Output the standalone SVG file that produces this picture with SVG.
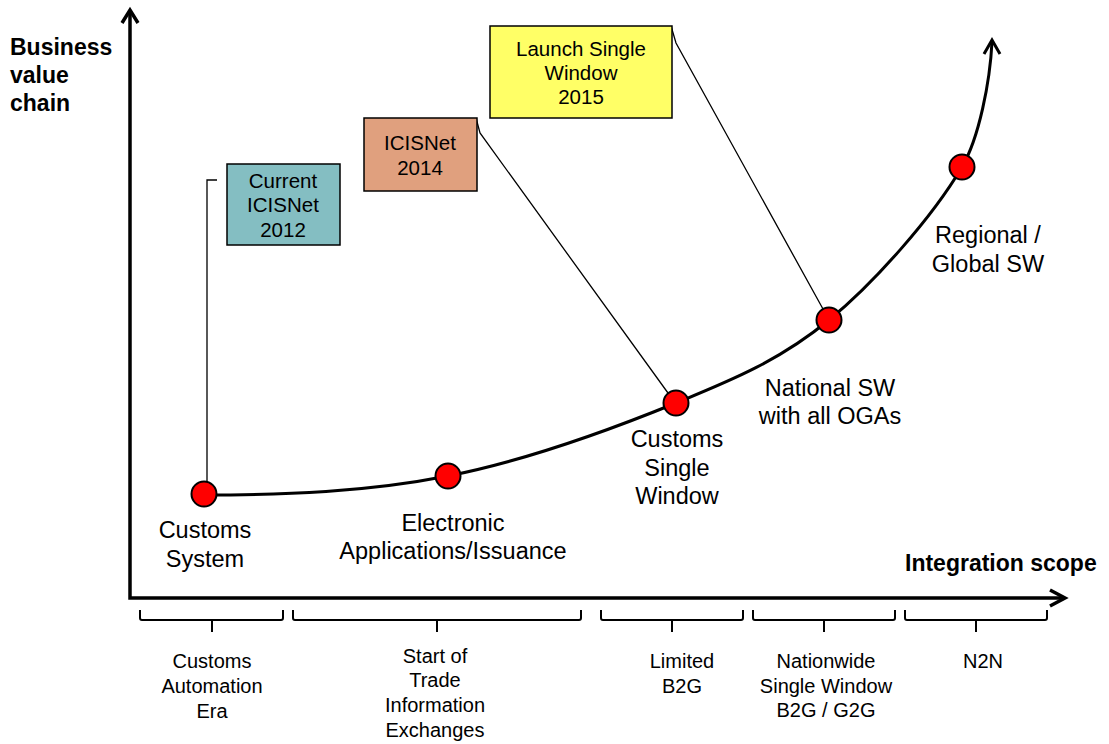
<svg xmlns="http://www.w3.org/2000/svg" width="1109" height="744" viewBox="0 0 1109 744">
<style>
.ax{fill:none;stroke:#000;stroke-width:3.5;stroke-linejoin:miter}
.cv{fill:none;stroke:#000;stroke-width:3}
.dot{fill:#ff0000;stroke:#000;stroke-width:2}
.br{fill:none;stroke:#000;stroke-width:2}
.ln{fill:none;stroke:#000;stroke-width:1.3}
.box{stroke:#000;stroke-width:1.5}
text{font-family:"Liberation Sans",Arial,sans-serif;fill:#000;text-anchor:middle}
.t20{font-size:23.5px}
.t18{font-size:20.5px}
.t17{font-size:20px}
.b{font-weight:bold;font-size:23px;text-anchor:start}
</style>
<g id="axes">
<path class="ax" d="M130,10 L130,598 L1064,598"/>
<polyline class="ax" points="122,23 130,10 138,23"/>
<polyline class="ax" points="1050,590 1065,598 1050,606"/>
</g>
<g id="axis-labels">
<text class="b" x="10" y="55">Business</text>
<text class="b" x="10" y="83">value</text>
<text class="b" x="10" y="111">chain</text>
<text class="b" x="905" y="571">Integration scope</text>
</g>
<g id="connectors">
<path class="cv" d="M204,495 C285,495 367,492 448,476 C524,461 600,434 676,403 C727,382 778,362 829,320 C873,284 932,218 962,167 C979,138 990,82 992,42"/>
<polyline class="cv" points="984,54 992,40 1000,54"/>
<polyline class="ln" points="217,180 207,180 207,482"/>
<polyline class="ln" points="476,118 480,133 668,393"/>
<polyline class="ln" points="671,26 676,43 823,309"/>
</g>
<g id="box-2012">
<rect class="box" x="227" y="164" width="113" height="81" fill="#84BEC2"/>
<text class="t18" x="283" y="188">Current</text>
<text class="t18" x="283" y="212">ICISNet</text>
<text class="t18" x="283" y="237">2012</text>
</g>
<g id="box-2014">
<rect class="box" x="364" y="118" width="113" height="73" fill="#E0A07E"/>
<text class="t18" x="420" y="150">ICISNet</text>
<text class="t18" x="420" y="175">2014</text>
</g>
<g id="box-2015">
<rect class="box" x="490" y="26" width="182" height="92" fill="#FFFF66"/>
<text class="t18" x="581" y="56">Launch Single</text>
<text class="t18" x="581" y="80">Window</text>
<text class="t18" x="581" y="104">2015</text>
</g>
<g id="node-customs-system">
<circle class="dot" cx="204" cy="494" r="12.5"/>
<text class="t20" x="205" y="538">Customs</text>
<text class="t20" x="205" y="567">System</text>
</g>
<g id="node-electronic">
<circle class="dot" cx="448" cy="476" r="12.5"/>
<text class="t20" x="453" y="531">Electronic</text>
<text class="t20" x="453" y="559">Applications/Issuance</text>
</g>
<g id="node-customs-sw">
<circle class="dot" cx="676" cy="403" r="12.5"/>
<text class="t20" x="677" y="447">Customs</text>
<text class="t20" x="677" y="476">Single</text>
<text class="t20" x="677" y="504">Window</text>
</g>
<g id="node-national-sw">
<circle class="dot" cx="829" cy="320" r="12.5"/>
<text class="t20" x="830" y="396">National SW</text>
<text class="t20" x="830" y="424">with all OGAs</text>
</g>
<g id="node-regional-sw">
<circle class="dot" cx="962" cy="167" r="12.5"/>
<text class="t20" x="988" y="243">Regional /</text>
<text class="t20" x="988" y="272">Global SW</text>
</g>
<g id="brackets">
<path class="br" d="M140,610 L140,618 Q140,620 142,620 L281,620 Q283,620 283,618 L283,610 M212,620 L212,632"/>
<path class="br" d="M293,610 L293,618 Q293,620 295,620 L579,620 Q581,620 581,618 L581,610 M437,620 L437,632"/>
<path class="br" d="M601,610 L601,618 Q601,620 603,620 L741,620 Q743,620 743,618 L743,610 M672,620 L672,632"/>
<path class="br" d="M753,610 L753,618 Q753,620 755,620 L893,620 Q895,620 895,618 L895,610 M824,620 L824,632"/>
<path class="br" d="M905,610 L905,618 Q905,620 907,620 L1045,620 Q1047,620 1047,618 L1047,610 M976,620 L976,632"/>
</g>
<g id="scope-labels">
<text class="t17" x="212" y="668">Customs</text>
<text class="t17" x="212" y="693">Automation</text>
<text class="t17" x="212" y="718">Era</text>
<text class="t17" x="435" y="663">Start of</text>
<text class="t17" x="435" y="687">Trade</text>
<text class="t17" x="435" y="712">Information</text>
<text class="t17" x="435" y="737">Exchanges</text>
<text class="t17" x="682" y="668">Limited</text>
<text class="t17" x="682" y="693">B2G</text>
<text class="t17" x="826" y="668">Nationwide</text>
<text class="t17" x="826" y="693">Single Window</text>
<text class="t17" x="826" y="717">B2G / G2G</text>
<text class="t17" x="983" y="668">N2N</text>
</g>
</svg>
